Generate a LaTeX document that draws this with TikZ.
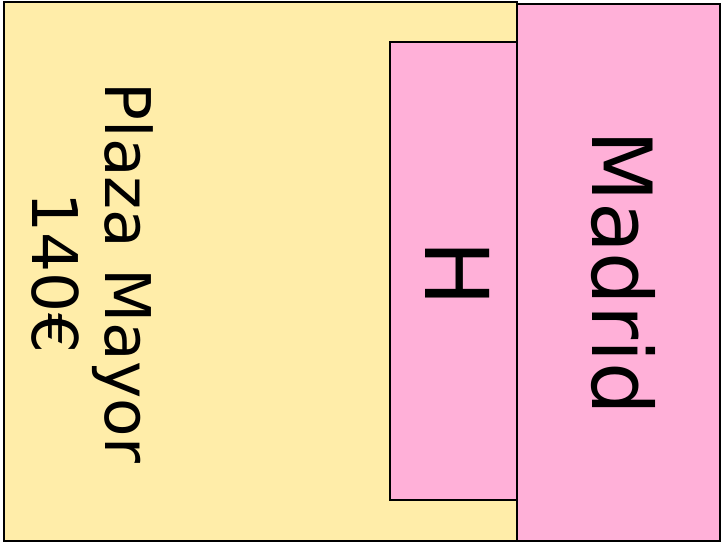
\documentclass[tikz,border=0pt]{standalone}
\usepackage{fontspec}
\setmainfont{DejaVu Sans}
\usepackage{tikz}
\usetikzlibrary{positioning}
\usepackage{xcolor}
\definecolor{cellyellow}{HTML}{FFEDA9}
\definecolor{cellpink}{HTML}{FFB0D8}

\begin{document}
\begin{tikzpicture}[
    x=1pt,y=-1pt,
    cell/.style={draw=black,line width=2pt},
    lbl/.style={rotate=-90,inner sep=0pt,align=center,text=black},
]
\useasboundingbox (0,0) rectangle (722,544);
\draw[cell,fill=cellyellow] (3.5,1.5) rectangle (517,541);
\draw[cell,fill=cellpink] (517,3.5) rectangle (720,541);
\draw[cell,fill=cellpink] (390,42) rectangle (517,499.5);
\node[lbl,font=\fontsize{63}{73}\selectfont](plaza)at(92,273){Plaza Mayor\\140€};
\node[lbl,font=\fontsize{88}{100}\selectfont](hotel)at(458,274){H};
\node[lbl,font=\fontsize{83}{100}\selectfont](madrid)at(623,273){Madrid};
\end{tikzpicture}
\end{document}
